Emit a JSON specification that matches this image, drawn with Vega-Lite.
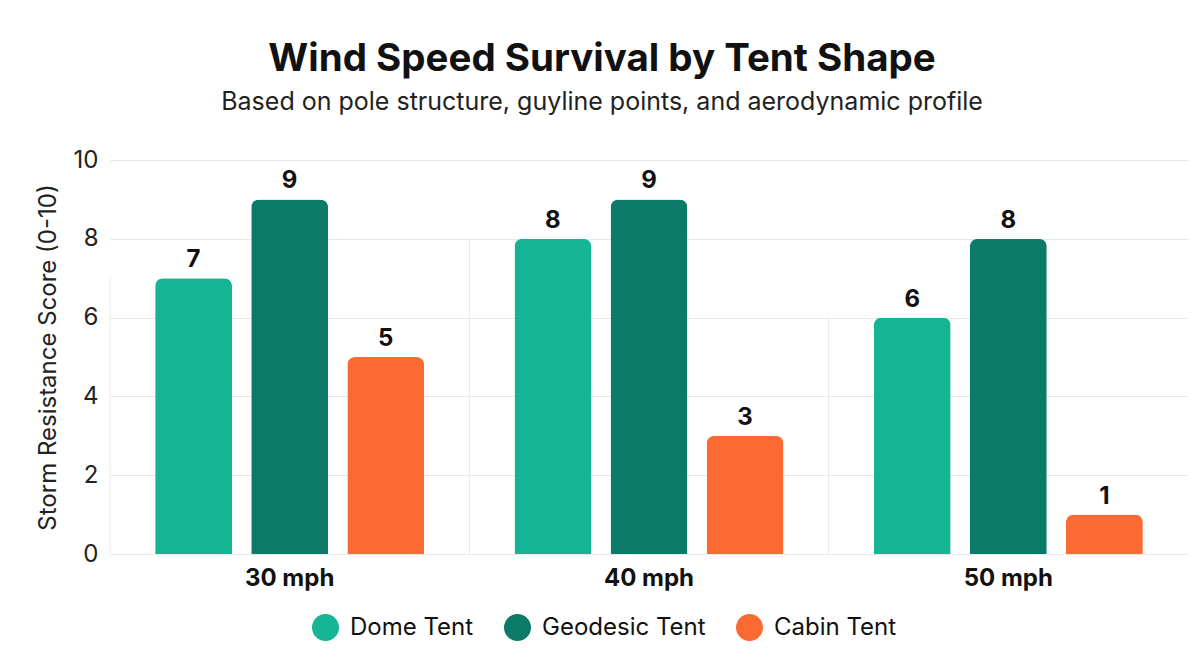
{
  "$schema": "https://vega.github.io/schema/vega-lite/v6.json",
  "width": 1078,
  "height": 394,
  "autosize": "none",
  "padding": {"left": 110, "top": 160, "right": 16, "bottom": 118},
  "background": "white",
  "config": {
    "font": "Inter",
    "view": {"stroke": null},
    "axis": {"gridColor": "#e8e8e8", "domain": false, "ticks": false}
  },
  "title": {
    "text": "Wind Speed Survival by Tent Shape",
    "subtitle": "Based on pole structure, guyline points, and aerodynamic profile",
    "anchor": "middle",
    "frame": "bounds",
    "dx": -10,
    "fontSize": 38.5,
    "fontWeight": "bold",
    "color": "#111111",
    "subtitleFontSize": 25,
    "subtitleColor": "#222222",
    "subtitlePadding": 11,
    "offset": 32
  },
  "data": {
    "values": [
      {"speed": "30 mph", "tent": "Dome Tent", "score": 7},
      {"speed": "30 mph", "tent": "Geodesic Tent", "score": 9},
      {"speed": "30 mph", "tent": "Cabin Tent", "score": 5},
      {"speed": "40 mph", "tent": "Dome Tent", "score": 8},
      {"speed": "40 mph", "tent": "Geodesic Tent", "score": 9},
      {"speed": "40 mph", "tent": "Cabin Tent", "score": 3},
      {"speed": "50 mph", "tent": "Dome Tent", "score": 6},
      {"speed": "50 mph", "tent": "Geodesic Tent", "score": 8},
      {"speed": "50 mph", "tent": "Cabin Tent", "score": 1}
    ]
  },
  "encoding": {
    "x": {
      "field": "speed",
      "type": "nominal",
      "title": null,
      "scale": {"paddingInner": 0, "paddingOuter": 0},
      "axis": {
        "labelAngle": 0,
        "labelFontSize": 24,
        "labelFontWeight": "bold",
        "labelColor": "#111111",
        "labelPadding": 12,
        "grid": false
      }
    },
    "y": {
      "field": "score",
      "type": "quantitative",
      "title": "Storm Resistance Score (0-10)",
      "scale": {"domain": [0, 10]},
      "axis": {
        "values": [0, 2, 4, 6, 8, 10],
        "labelFontSize": 24,
        "labelColor": "#222222",
        "labelPadding": 12,
        "titleFontSize": 24,
        "titleFontWeight": "normal",
        "titleColor": "#222222",
        "titlePadding": 13
      }
    }
  },
  "layer": [
    {
      "transform": [{"filter": "datum.tent === 'Dome Tent'"}],
      "mark": {"type": "rule", "color": "#e8e8e8", "strokeWidth": 1},
      "encoding": {
        "x": {"field": "speed", "type": "nominal", "bandPosition": 0}
      }
    },
    {
      "mark": {"type": "bar", "cornerRadiusTopLeft": 8, "cornerRadiusTopRight": 8},
      "encoding": {
        "xOffset": {
          "field": "tent",
          "type": "nominal",
          "sort": ["Dome Tent", "Geodesic Tent", "Cabin Tent"],
          "scale": {"paddingInner": 0.2, "paddingOuter": 0.47}
        },
        "color": {
          "field": "tent",
          "type": "nominal",
          "sort": ["Dome Tent", "Geodesic Tent", "Cabin Tent"],
          "scale": {
            "domain": ["Dome Tent", "Geodesic Tent", "Cabin Tent"],
            "range": ["#14b495", "#0b7a69", "#fb6a33"]
          },
          "legend": {
            "title": null,
            "orient": "none",
            "direction": "horizontal",
            "legendX": 202,
            "legendY": 454,
            "symbolType": "circle",
            "symbolSize": 729,
            "symbolStrokeWidth": 0,
            "labelFontSize": 24,
            "labelLimit": 400,
            "labelColor": "#111111",
            "labelOffset": 11,
            "columnPadding": 30
          }
        }
      }
    },
    {
      "mark": {"type": "text", "baseline": "bottom", "dy": -6, "fontSize": 24, "fontWeight": "bold", "color": "#111111"},
      "encoding": {
        "xOffset": {
          "field": "tent",
          "type": "nominal",
          "sort": ["Dome Tent", "Geodesic Tent", "Cabin Tent"],
          "scale": {"paddingInner": 0.2, "paddingOuter": 0.47}
        },
        "text": {"field": "score", "type": "quantitative"}
      }
    }
  ]
}
